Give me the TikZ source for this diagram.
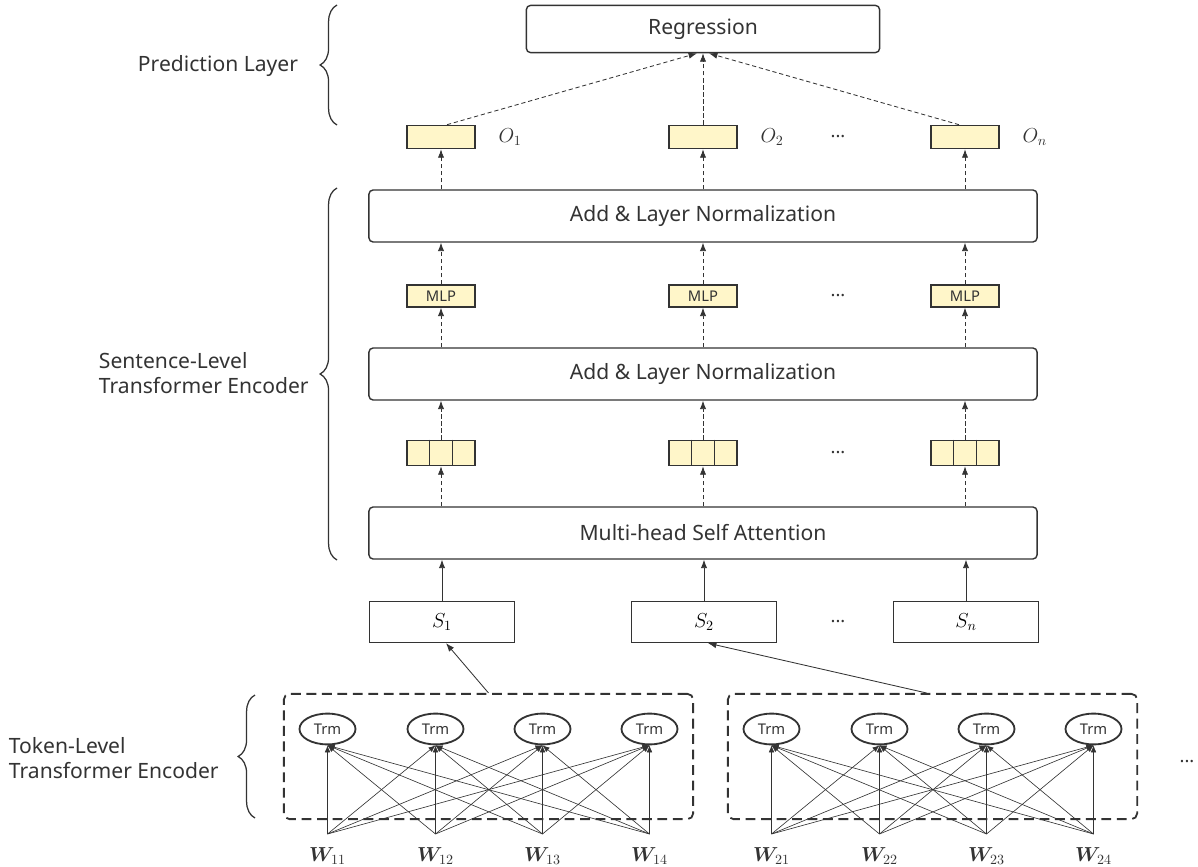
\documentclass[tikz,border=0pt]{standalone}
\usepackage{fontspec}
\setmainfont{Noto Sans}
\usepackage{amsmath,bm}
\usetikzlibrary{arrows.meta,decorations.pathreplacing,shapes.geometric,positioning}

\definecolor{ink}{HTML}{333333}
\definecolor{cellfill}{HTML}{FFF6C9}

\tikzset{
  layer/.style={draw=ink, line width=1pt, rounded corners=3pt, minimum width=16.7cm, minimum height=1.3cm, text=ink, font=\fontsize{15}{17}\selectfont},
  vec/.style={draw=ink, fill=cellfill, line width=1pt, minimum width=1.7cm, minimum height=0.58cm, inner sep=0pt, text=ink, font=\fontsize{10.5}{12}\selectfont},
  sent/.style={draw=ink, line width=0.8pt, minimum width=3.63cm, minimum height=1.03cm, font=\fontsize{14}{16}\selectfont},
  trm/.style={ellipse, draw=ink, line width=1.3pt, minimum width=1.4cm, minimum height=0.77cm, inner sep=0pt, text=ink, font=\fontsize{10.5}{12}\selectfont},
  tokbox/.style={draw=ink, line width=1.3pt, dash pattern=on 7pt off 4pt, rounded corners=4pt, minimum width=10.23cm, minimum height=3.13cm},
  dflow/.style={draw=ink, line width=0.6pt, dash pattern=on 3pt off 2pt, -{Latex[length=6pt,width=4.5pt]}},
  flow/.style={draw=ink, line width=0.6pt, -{Latex[length=6pt,width=4.5pt]}},
  fine/.style={draw=ink, line width=0.45pt, -{Latex[length=5pt,width=4pt]}},
  side/.style={draw=ink, line width=0.9pt, decorate, decoration={brace, amplitude=12pt}},
  sidelabel/.style={align=left, text=ink, font=\fontsize{15}{18}\selectfont},
  gap/.style={text=ink, font=\fontsize{13}{14}\selectfont\bfseries}
}

\begin{document}
\begin{tikzpicture}[x=0.025cm, y=-0.025cm]
  \useasboundingbox (0,0) rectangle (1198,867);

  % sentence-level stack
  \node[layer, minimum width=8.83cm, minimum height=1.18cm] (reg) at (703,29) {Regression};
  \node[layer] (addtop) at (703,216) {Add \& Layer Normalization};
  \node[layer] (addmid) at (703,374) {Add \& Layer Normalization};
  \node[layer] (mhsa) at (703,533) {Multi-head Self Attention};

  \foreach \x/\n/\s in {441/1/1, 703/2/2, 965/3/n} {
    \node[vec] (o\n) at (\x,137) {};
    \node[right=0.45cm of o\n, text=ink, font=\fontsize{14}{16}\selectfont] (ol\n) {$O_\s$};
    \node[vec, minimum height=0.55cm] (m\n) at (\x,296) {MLP};
    \node[vec, minimum height=0.63cm] (v\n) at (\x,453) {};
    \draw[ink, line width=1pt] ([xshift=-0.283cm]v\n.north) -- ([xshift=-0.283cm]v\n.south)
                               ([xshift=0.283cm]v\n.north) -- ([xshift=0.283cm]v\n.south);
    \node[sent] (s\n) at (\x+1,622) {$S_\s$};

    \draw[dflow] (o\n |- addtop.north) -- (o\n.south);
    \draw[dflow] (m\n.north) -- (m\n |- addtop.south);
    \draw[dflow] (m\n |- addmid.north) -- (m\n.south);
    \draw[dflow] (v\n.north) -- (v\n |- addmid.south);
    \draw[dflow] (v\n |- mhsa.north) -- (v\n.south);
    \draw[flow] (s\n.north) -- (s\n |- mhsa.south);
  }
  \draw[dflow] ([xshift=0.15cm]o1.north) -- ([xshift=-0.15cm]reg.south);
  \draw[dflow] (o2.north) -- (reg.south);
  \draw[dflow] ([xshift=-0.15cm]o3.north) -- ([xshift=0.15cm]reg.south);

  \foreach \y [count=\k] in {137,296,453,622}
    \node[gap] (gap\k) at (838,\y) {...};

  % token-level encoders
  \foreach \b/\c in {1/488.5, 2/932.5} {
    \node[tokbox] (tk\b) at (\c,756.5) {};
    \foreach \d [count=\i] in {-161,-53,54,161} {
      \node[trm] (t\b\i) at (\c+\d,729) {Trm};
      \coordinate (w\b\i) at (\c+\d,834);
      \node[text=ink, font=\fontsize{14}{16}\selectfont] (wl\b\i) at (\c+\d,856) {$\bm{W}_{\b\i}$};
    }
    \foreach \i in {1,...,4}
      \foreach \j in {1,...,4}
        \draw[fine] (w\b\i) -- (t\b\j.south);
  }
  \draw[flow] (tk1.north) -- ([xshift=0.1cm]s1.south);
  \draw[flow] ([xshift=-0.15cm]tk2.north) -- ([xshift=0.1cm]s2.south);
  \node[gap] (gap5) at (1187,762) {...};

  % braces and their labels
  \draw[side] (337,125) -- (337,5);
  \draw[side] (337,560) -- (337,188);
  \draw[side] (255,818) -- (255,695);
  \node[sidelabel, anchor=east] (predlbl) at (303,66) {Prediction Layer};
  \node[sidelabel, anchor=west] (sentlbl) at (94,373) {Sentence-Level\\Transformer Encoder};
  \node[sidelabel, anchor=west] (toklbl) at (4,758) {Token-Level\\Transformer Encoder};
\end{tikzpicture}
\end{document}
